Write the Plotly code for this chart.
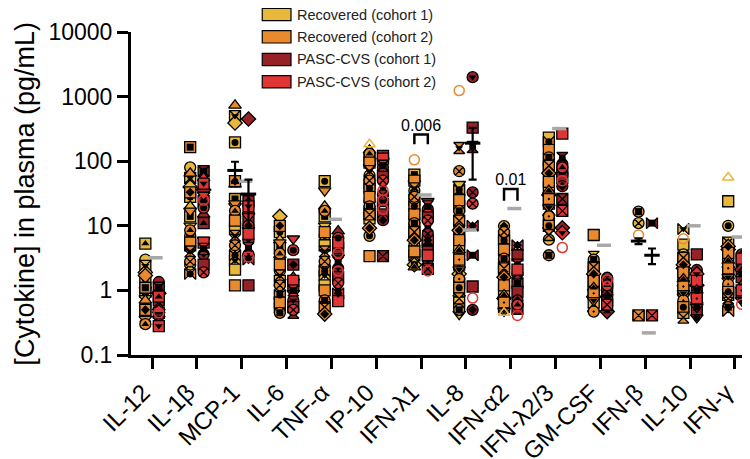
import plotly.graph_objects as go

# === Categories ===
cytokines = ['IL-12', 'IL-1β', 'MCP-1', 'IL-6', 'TNF-α', 'IP-10', 'IFN-λ1',
             'IL-8', 'IFN-α2', 'IFN-λ2/3', 'GM-CSF', 'IFN-β', 'IL-10', 'IFN-γ']

# === Values (pg/mL), one list per cytokine ===
rec1 = [
    [5.3, 3.0, 2.4, 1.9, 1.5, 1.2, 0.95, 0.75, 0.6, 0.48, 0.4],
    [80, 55, 40, 28, 20, 14, 10, 7, 5, 3.5, 2.5],
    [500, 390, 195, 44, 26, 20, 14, 9, 6, 4, 2.9, 2.1],
    [14, 8, 6, 4.5, 3, 2, 1.4, 1.0, 0.75, 0.55],
    [49, 20, 14, 10, 7, 5, 3.5, 2.4, 1.7, 1.2],
    [148, 110, 80, 60, 45, 32, 24, 17, 13, 7],
    [62, 45, 35, 25, 18, 13, 9.5, 7, 5, 3.5, 2.5],
    [44, 30, 20, 14, 10, 7, 5, 3.5, 2.5, 1.8, 1.3, 0.9, 0.65, 0.43],
    [9.9, 7, 5, 3.6, 2.6, 1.9, 1.4, 1.0, 0.75, 0.55],
    [232, 170, 130, 100, 75, 55, 40, 30, 22, 16, 12, 8.5, 6.1],
    [3.3, 2.6, 2.0, 1.6, 1.25, 1.0, 0.8, 0.65, 0.52],
    [11, 0.41],
    [8.9, 5.1, 3.6, 2.8, 2.2, 1.7, 1.3, 1.0, 0.8, 0.6, 0.45],
    [24, 10, 5.5, 4.3, 3.3, 2.5, 1.9, 1.4, 1.1, 0.85, 0.65],
]
rec2 = [
    [1.7, 1.1, 0.7, 0.5, 0.36, 0.3],
    [165, 65, 33, 17, 8.5, 5.5, 4, 2.8, 1.8],
    [730, 49, 22, 17, 12, 7, 5, 3.5, 1.2],
    [10, 5.5, 3.7, 2.5, 1.7, 1.2, 0.85, 0.65, 0.45],
    [35, 17, 8, 4, 2.8, 2, 1, 0.7, 0.55, 0.43],
    [130, 95, 70, 50, 38, 28, 20, 15, 9.2, 3.4],
    [50, 38, 28, 20, 15, 11, 8, 6, 4, 2.3],
    [160, 70, 36, 25, 17, 12, 8.5, 6, 4.2, 3, 2.1, 1.5, 1.1, 0.75, 0.5],
    [8, 6, 4.3, 3.1, 2.2, 1.6, 1.2, 0.85, 0.65, 0.48],
    [200, 150, 115, 85, 65, 48, 35, 26, 19, 14, 10, 7.2, 3.5],
    [7.2, 3.0, 2.3, 1.8, 1.4, 1.1, 0.9, 0.7, 0.47],
    [16.6, 0.41],
    [3.2, 2.5, 1.9, 1.5, 1.15, 0.9, 0.7, 0.55, 0.38],
    [4.8, 3.8, 2.9, 2.2, 1.6, 1.25, 0.95, 0.75, 0.55, 0.48],
]
pasc1 = [
    [1.35, 1.1, 0.9, 0.7, 0.55, 0.45, 0.36, 0.3],
    [70, 36, 24, 15, 11, 6, 3.6, 2.5],
    [450, 24, 17, 12, 8.5, 6, 1.2],
    [2.5, 1.6, 1.2, 0.9, 0.7, 0.55, 0.45],
    [8.3, 4.5, 3.2, 2.2, 1.6, 1.1, 0.76],
    [121, 100, 80, 60, 40, 30, 22, 15, 12.2, 3.4],
    [24, 18, 14, 10, 7.5, 5.5, 4, 3, 2.15],
    [2000, 330, 166, 33, 3.5, 1.15, 0.5],
    [3.5, 2.5, 1.8, 1.3, 0.95, 0.7, 0.52],
    [112, 90, 70, 55, 41, 26, 9.3],
    [1.57, 1.3, 1.05, 0.85, 0.7, 0.47],
    [11],
    [3.6, 2.07, 1.6, 1.2, 0.9, 0.7, 0.5, 0.38],
    [3.6, 2.8, 2.1, 1.6, 1.2, 0.9, 0.7],
]
pasc2 = [
    [0.8, 0.5, 0.28],
    [55, 45, 30, 19, 5.5, 4.4, 1.9],
    [20, 14, 10, 7.5, 4.5, 3.6, 3.0],
    [6.3, 4.2, 1.4, 1.0, 0.5],
    [6.5, 5.5, 2.7, 1.3, 0.9, 0.68],
    [110, 85, 50],
    [20, 12, 6, 3.5],
    [22, 10],
    [5, 2.1, 0.6],
    [268, 80, 17, 7.8],
    [1.2, 0.6],
    [0.41],
    [1.8, 1.4, 1.0, 0.75, 0.55],
    [3.1, 1.8, 1.0],
]
# open symbols
rec1_open = [[], [], [], [], [], [183], [], [], [0.45], [], [], [], [], [56]]
rec2_open = [[], [], [], [], [], [], [105], [1240], [], [], [], [7.2], [6.3], []]
pasc2_open = [[0.45], [25], [3.3], [], [3.8, 2.0], [35, 25, 18], [2.0], [0.76],
              [0.41], [4.6, 50], [1.45], [], [], [0.61]]

# mean +/- SEM bars visible above the points
mean_rec = [None, None, 72, None, None, None, None, None, None, None, None, 5.8, None, None]
sem_rec = [None, None, 26, None, None, None, None, None, None, None, None, 0.6, None, None]
mean_pasc = [None, None, 31, None, None, None, None, 190, None, None, None, 3.5, None, None]
sem_pasc = [None, None, 21, None, None, None, None, 138, None, None, None, 0.95, None, None]

# grey reference dashes
ref_dash = [3.2, None, 49, None, 12.6, None, 30, 8.6, 18.5, 320, 5.0, 0.22, 10, 6.7]

# significance
sig_idx = [6, 8]
sig_text = ['0.006', '0.01']
sig_top = [259, 37]
sig_leg = [183, 24.5]

groups = ['Recovered (cohort 1)', 'Recovered (cohort 2)', 'PASC-CVS (cohort 1)', 'PASC-CVS (cohort 2)']
colors = ['#E8B83B', '#EA8A2E', '#962228', '#E03535']

FONT = 'Arial, Liberation Sans, sans-serif'
OFF = 0.15
symbols = ['square', 'circle', 'square-x', 'diamond', 'square', 'triangle-up', 'square-dot',
           'triangle-down', 'circle-dot', 'square', 'hourglass', 'circle-x', 'bowtie']
inner = ['triangle-up', 'square', 'triangle-down', 'diamond', 'circle']

fig = go.Figure()


def add_group(data, color, side, shift):
    xs, ys, sy = [], [], []
    bx, by, bs = [], [], []
    for i, vals in enumerate(data):
        for j, v in enumerate(vals):
            xs.append(i + side)
            ys.append(v)
            sy.append(symbols[(i + j + shift) % len(symbols)])
            if (i + j + shift) % 2 == 0:
                bx.append(i + side)
                by.append(v)
                bs.append(inner[(i + j) % len(inner)])
    fig.add_trace(go.Scatter(
        x=xs, y=ys, mode='markers', showlegend=False, hoverinfo='y',
        marker=dict(size=11, color=color, symbol=sy, line=dict(color='black', width=1.3))
    ))
    fig.add_trace(go.Scatter(
        x=bx, y=by, mode='markers', showlegend=False, hoverinfo='skip',
        marker=dict(size=7, color='black', symbol=bs, line=dict(width=0))
    ))


add_group(rec1, colors[0], -OFF, 0)
add_group(rec2, colors[1], -OFF, 3)
add_group(pasc1, colors[2], OFF, 1)
add_group(pasc2, colors[3], OFF, 4)

# open markers
for data, color, side, sym in [(rec1_open, colors[0], -OFF, 'triangle-up-open'),
                               (rec2_open, colors[1], -OFF, 'circle-open'),
                               (pasc2_open, colors[3], OFF, 'circle-open')]:
    xs = [i + side for i, vals in enumerate(data) for v in vals]
    ys = [v for vals in data for v in vals]
    fig.add_trace(go.Scatter(
        x=xs, y=ys, mode='markers', showlegend=False, hoverinfo='y',
        marker=dict(size=10, symbol=sym, color=color, line=dict(color=color, width=1.5))
    ))

# grey dashes
dx = [i + 0.08 for i, v in enumerate(ref_dash) if v is not None]
dy = [v for v in ref_dash if v is not None]
fig.add_trace(go.Scatter(
    x=dx, y=dy, mode='markers', showlegend=False, hoverinfo='y',
    marker=dict(symbol='line-ew', size=10, line=dict(color='#A8A8A8', width=3.5))
))

# mean +/- SEM
for means, sems, side in [(mean_rec, sem_rec, -OFF), (mean_pasc, sem_pasc, OFF)]:
    ex = [i + side for i, m in enumerate(means) if m is not None]
    ey = [m for m in means if m is not None]
    es = [s for s in sems if s is not None]
    fig.add_trace(go.Scatter(
        x=ex, y=ey, mode='markers', showlegend=False, hoverinfo='y',
        marker=dict(symbol='line-ew', size=11, line=dict(color='black', width=3)),
        error_y=dict(type='data', array=es, color='black', thickness=2.2, width=4)
    ))

# significance brackets
for k, i in enumerate(sig_idx):
    fig.add_trace(go.Scatter(
        x=[i - OFF, i - OFF, i + OFF, i + OFF],
        y=[sig_leg[k], sig_top[k], sig_top[k], sig_leg[k]],
        mode='lines', showlegend=False, hoverinfo='skip',
        line=dict(color='black', width=2.5)
    ))
fig.add_trace(go.Scatter(
    x=sig_idx, y=sig_top, mode='text', text=sig_text, textposition='top center',
    showlegend=False, hoverinfo='skip', textfont=dict(size=16, color='black', family=FONT)
))

# legend boxes
leg_y = [1.054, 0.985, 0.915, 0.846]
for k, name in enumerate(groups):
    fig.add_shape(type='rect', xref='paper', yref='paper',
                  x0=0.21, x1=0.256, y0=leg_y[k] - 0.019, y1=leg_y[k] + 0.019,
                  fillcolor=colors[k], line=dict(color='black', width=1.2))
    fig.add_annotation(xref='paper', yref='paper', x=0.262, y=leg_y[k], text=name,
                       showarrow=False, xanchor='left', yanchor='middle',
                       font=dict(size=14.5, color='#222', family=FONT))

# y axis title
fig.add_annotation(xref='paper', yref='paper', x=-0.171, y=0.5, textangle=-90,
                   text='[Cytokine] in plasma (pg/mL)', showarrow=False,
                   xanchor='center', yanchor='middle',
                   font=dict(size=27, color='black', family=FONT))

fig.update_layout(
    width=750, height=459,
    margin=dict(l=123, r=2, t=24, b=104),
    plot_bgcolor='white', paper_bgcolor='white',
    font=dict(family=FONT, color='black'),
    xaxis=dict(
        range=[-0.47, 13.47], tickmode='array', tickvals=list(range(len(cytokines))),
        ticktext=cytokines, tickangle=-45, tickfont=dict(size=24),
        ticklabelshift=-9, ticklabelstandoff=0,
        showline=True, linecolor='black', linewidth=3, ticks='outside',
        ticklen=11, tickwidth=3, tickcolor='black', showgrid=False, zeroline=False
    ),
    yaxis=dict(
        type='log', range=[-1, 4], tickmode='array',
        tickvals=[0.1, 1, 10, 100, 1000, 10000],
        ticktext=['0.1', '1', '10', '100', '1000', '10000'], tickfont=dict(size=23),
        showline=True, linecolor='black', linewidth=3, ticks='outside',
        ticklen=11, tickwidth=3, tickcolor='black', showgrid=False, zeroline=False
    ),
)

fig.write_html("out.html")
